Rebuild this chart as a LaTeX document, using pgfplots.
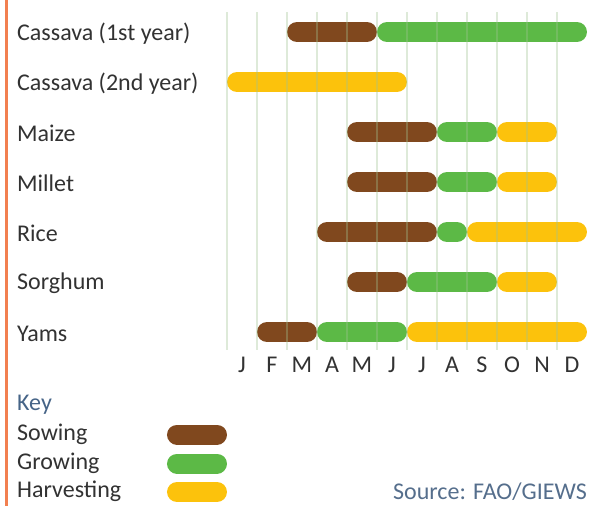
\documentclass[border=0pt]{standalone}
\usepackage{pgfplots}
\pgfplotsset{compat=1.18}
\usepackage{fontspec}
\setmainfont{Carlito}
\definecolor{csow}{RGB}{128,72,30}
\definecolor{cgrow}{RGB}{92,185,70}
\definecolor{charv}{RGB}{252,194,12}
\definecolor{gridc}{RGB}{160,195,146}
\definecolor{txt}{RGB}{50,50,50}
\definecolor{keyc}{RGB}{70,100,135}
\definecolor{srcc}{RGB}{85,110,140}
\definecolor{orangel}{RGB}{242,128,80}
\newcommand{\lab}{\fontsize{24}{28}\selectfont}
\tikzset{rowlab/.style={anchor=west, inner sep=0pt, text=txt, font=\lab},
  seg/.style={line width=20pt, line cap=round, shorten <=10pt, shorten >=10pt}}
\begin{document}
\begin{tikzpicture}
\begin{axis}[
  width=360pt, height=338pt, scale only axis,
  xmin=0, xmax=12, ymin=-0.36, ymax=6.4,
  axis line style={draw=none},
  clip=false, axis on top,
  ytick=\empty,
  xtick={0.5,1.5,...,11.5},
  xticklabels={J,F,M,A,M,J,J,A,S,O,N,D},
  minor xtick={0,1,...,11},
  major tick length=0pt, minor tick length=0pt,
  xminorgrids,
  minor grid style={draw=gridc, line width=1.4pt, opacity=0.35},
  xticklabel style={font=\lab, text=txt, anchor=center, yshift=-15pt},
]
% Cassava (1st year)
\addplot[seg, csow]  coordinates {(2,6) (5,6)};
\addplot[seg, cgrow] coordinates {(5,6) (12,6)};
% Cassava (2nd year)
\addplot[seg, charv] coordinates {(0,5) (6,5)};
% Maize
\addplot[seg, csow]  coordinates {(4,4) (7,4)};
\addplot[seg, cgrow] coordinates {(7,4) (9,4)};
\addplot[seg, charv] coordinates {(9,4) (11,4)};
% Millet
\addplot[seg, csow]  coordinates {(4,3) (7,3)};
\addplot[seg, cgrow] coordinates {(7,3) (9,3)};
\addplot[seg, charv] coordinates {(9,3) (11,3)};
% Rice
\addplot[seg, csow]  coordinates {(3,2) (7,2)};
\addplot[seg, cgrow] coordinates {(7,2) (8,2)};
\addplot[seg, charv] coordinates {(8,2) (12,2)};
% Sorghum
\addplot[seg, csow]  coordinates {(4,1) (6,1)};
\addplot[seg, cgrow] coordinates {(6,1) (9,1)};
\addplot[seg, charv] coordinates {(9,1) (11,1)};
% Yams
\addplot[seg, csow]  coordinates {(1,0) (3,0)};
\addplot[seg, cgrow] coordinates {(3,0) (6,0)};
\addplot[seg, charv] coordinates {(6,0) (12,0)};

\coordinate (tl) at (axis cs:-7.5667,6.64);
\coordinate (br) at (axis cs:12.1,-3.48);
\draw[orangel, line width=3pt] (axis cs:-7.35,6.64) -- (axis cs:-7.35,-3.48);
\node[rowlab] at (axis cs:-7,5.97) {Cassava (1st year)};
\node[rowlab] at (axis cs:-7,4.97) {Cassava (2nd year)};
\node[rowlab] at (axis cs:-7,3.97) {Maize};
\node[rowlab] at (axis cs:-7,2.97) {Millet};
\node[rowlab] at (axis cs:-7,1.97) {Rice};
\node[rowlab] at (axis cs:-7,0.97) {Sorghum};
\node[rowlab] at (axis cs:-7,-0.03) {Yams};
\node[rowlab, text=keyc] at (axis cs:-7,-1.46) {Key};
\node[rowlab] at (axis cs:-7,-2.05) {Sowing};
\node[rowlab] at (axis cs:-7,-2.63) {Growing};
\node[rowlab] at (axis cs:-7,-3.19) {Harvesting};
\draw[csow, line width=20pt, line cap=round] ([xshift=-20pt]axis cs:-1,-2.05) -- ([xshift=20pt]axis cs:-1,-2.05);
\draw[cgrow, line width=20pt, line cap=round] ([xshift=-20pt]axis cs:-1,-2.63) -- ([xshift=20pt]axis cs:-1,-2.63);
\draw[charv, line width=20pt, line cap=round] ([xshift=-20pt]axis cs:-1,-3.20) -- ([xshift=20pt]axis cs:-1,-3.20);
\node[anchor=east, inner sep=0pt, text=srcc, font=\lab] at (axis cs:12,-3.19) {Source: FAO/GIEWS};
\end{axis}
\pgfresetboundingbox
\path[use as bounding box] (tl) rectangle (br);
\end{tikzpicture}
\end{document}
